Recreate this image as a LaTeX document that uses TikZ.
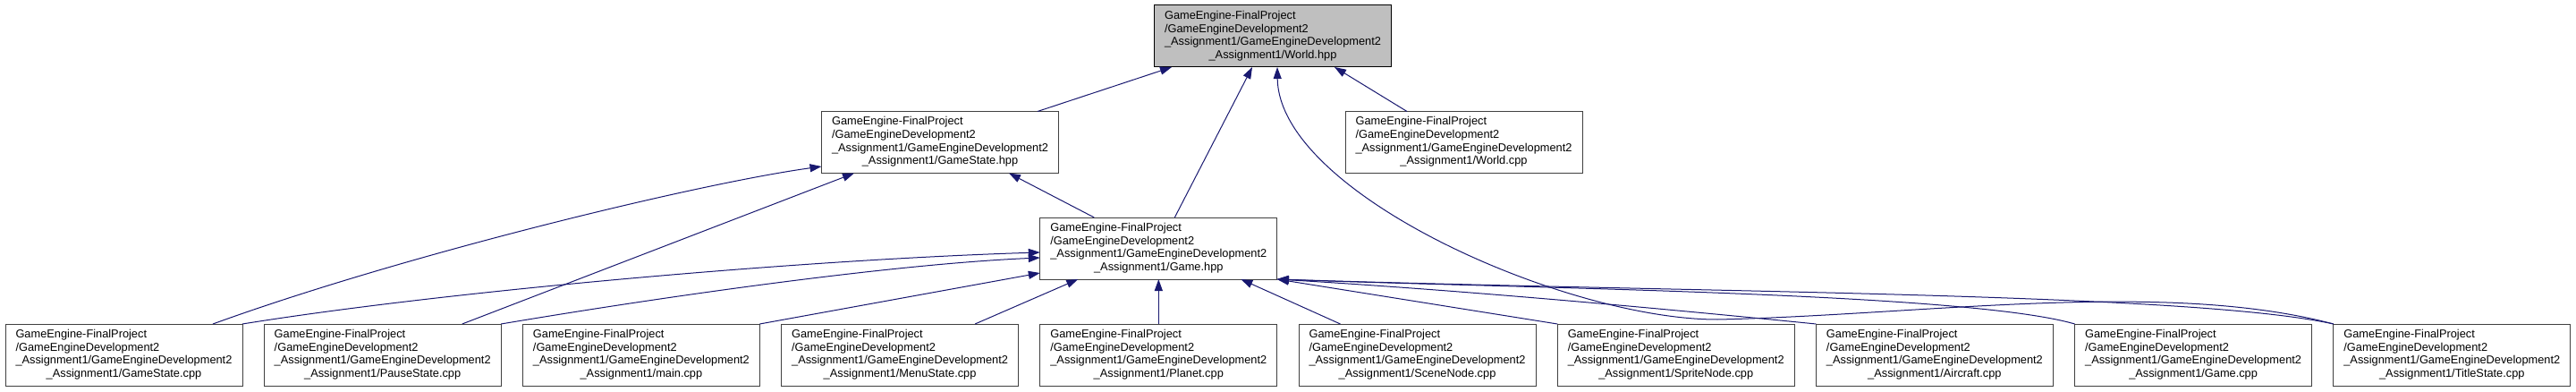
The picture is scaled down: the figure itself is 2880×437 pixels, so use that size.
\documentclass[tikz,border=0pt]{standalone}
\usepackage{fontspec}
\setmainfont{Liberation Sans}
\usepackage{tikz}
\usetikzlibrary{arrows.meta, positioning}
\definecolor{dxblue}{RGB}{25, 25, 112}
\definecolor{dxgrey}{RGB}{191, 191, 191}

% 文件路径（最后一行居中）
\newcommand{\incpath}[1]{\begin{tabular}{@{}l@{}}GameEngine-FinalProject\\/GameEngineDevelopment2\\\_Assignment1/GameEngineDevelopment2\\\multicolumn{1}{@{}c@{}}{\_Assignment1/#1}\end{tabular}}

\begin{document}
\begin{tikzpicture}[
		% 全局设置
		x=1pt, y=1pt,
		node distance=50pt and 24.2pt,
		font=\fontsize{12.8}{14.7}\selectfont,
		% 样式定义
		filebox/.style={rectangle, draw=black!75, line width=1pt, fill=white, minimum width=265pt, minimum height=69pt, inner sep=0pt, outer sep=0pt},
		rootbox/.style={filebox, draw=black, fill=dxgrey},
		incarrow/.style={-{Triangle[length=13pt, width=9pt]}, draw=dxblue, line width=1pt}
		]
		\useasboundingbox (0,0) rectangle (2880,437);
		
		% ==========================================
		% 上层节点
		% ==========================================
		\node[rootbox] (world_hpp) at (1423,396.5) {\incpath{World.hpp}};
		\node[filebox] (gamestate_hpp) at (1051,278) {\incpath{GameState.hpp}};
		\node[filebox] (world_cpp) at (1636.5,278) {\incpath{World.cpp}};
		
		% ==========================================
		% 底层 .cpp 文件
		% ==========================================
		\node[filebox] (gamestate_cpp) at (138.5,40.5) {\incpath{GameState.cpp}};
		\node[filebox, right=of gamestate_cpp] (pausestate_cpp) {\incpath{PauseState.cpp}};
		\node[filebox, right=of pausestate_cpp] (main_cpp) {\incpath{main.cpp}};
		\node[filebox, right=of main_cpp] (menustate_cpp) {\incpath{MenuState.cpp}};
		\node[filebox, right=of menustate_cpp] (planet_cpp) {\incpath{Planet.cpp}};
		\node[filebox, right=of planet_cpp] (scenenode_cpp) {\incpath{SceneNode.cpp}};
		\node[filebox, right=of scenenode_cpp] (spritenode_cpp) {\incpath{SpriteNode.cpp}};
		\node[filebox, right=of spritenode_cpp] (aircraft_cpp) {\incpath{Aircraft.cpp}};
		\node[filebox, right=of aircraft_cpp] (game_cpp) {\incpath{Game.cpp}};
		\node[filebox, right=of game_cpp] (titlestate_cpp) {\incpath{TitleState.cpp}};
		
		% Game.hpp 在 Planet.cpp 正上方
		\node[filebox, above=of planet_cpp] (game_hpp) {\incpath{Game.hpp}};
		
		% ==========================================
		% 连接线 -> World.hpp
		% ==========================================
		\coordinate (world_bend) at (1920,80);
		\draw[incarrow] ([xshift=109pt]gamestate_hpp.north) -- ([xshift=-113pt]world_hpp.south);
		\draw[incarrow] ([xshift=18pt]game_hpp.north) -- ([xshift=-23pt]world_hpp.south);
		\draw[incarrow] (titlestate_cpp.north west) .. controls +(-189,50) and +(230,5) .. (world_bend)
			.. controls +(-170,0) and +(2,-141) .. ([xshift=5pt]world_hpp.south);
		\draw[incarrow] ([xshift=-63.5pt]world_cpp.north) -- ([xshift=69pt]world_hpp.south);
		
		% ==========================================
		% 连接线 -> GameState.hpp
		% ==========================================
		\draw[incarrow] ([xshift=99.5pt]gamestate_cpp.north) .. controls +(212,77) and +(-138,-19) .. ([yshift=-27pt]gamestate_hpp.west);
		\draw[incarrow] ([xshift=89pt]pausestate_cpp.north) -- ([xshift=-96pt]gamestate_hpp.south);
		\draw[incarrow] ([xshift=-72pt]game_hpp.north) -- ([xshift=77pt]gamestate_hpp.south);
		
		% ==========================================
		% 连接线 -> Game.hpp
		% ==========================================
		\draw[incarrow] (gamestate_cpp.north east) .. controls +(230,37) and +(-262,-8) .. ([yshift=-4.5pt]game_hpp.west);
		\draw[incarrow] (pausestate_cpp.north east) .. controls +(190,32) and +(-162,-7) .. ([yshift=-10.5pt]game_hpp.west);
		\draw[incarrow] (main_cpp.north east) -- ([yshift=-27.5pt]game_hpp.west);
		\draw[incarrow] ([xshift=84pt]menustate_cpp.north) -- ([xshift=-90pt]game_hpp.south);
		\draw[incarrow] (planet_cpp) -- (game_hpp);
		\draw[incarrow] ([xshift=-86pt]scenenode_cpp.north) -- ([xshift=92pt]game_hpp.south);
		\draw[incarrow] (spritenode_cpp.north west) -- (game_hpp.south east);
		\draw[incarrow] (aircraft_cpp.north west) .. controls +(-200,20) and +(200,-12) .. (game_hpp.south east);
		\draw[incarrow] (game_cpp.north west) .. controls +(-120,35) and +(272,-10) .. (game_hpp.south east);
		\draw[incarrow] (titlestate_cpp.north west) .. controls +(-159,35) and +(472,-15) .. (game_hpp.south east);
		
	\end{tikzpicture}
\end{document}
